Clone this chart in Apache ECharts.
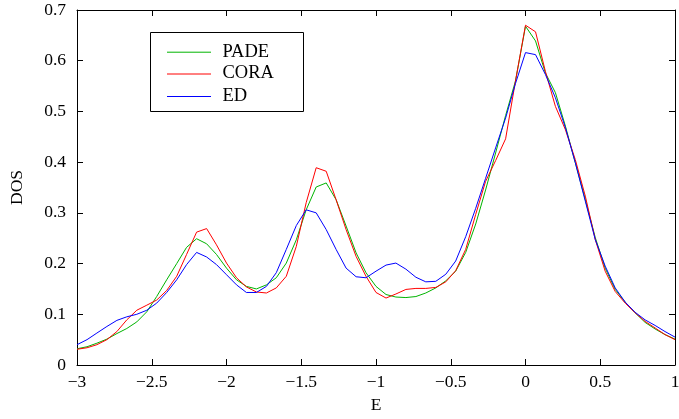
<!DOCTYPE html>
<html>
<head>
<meta charset="utf-8">
<script src="https://cdn.jsdelivr.net/npm/echarts@6/dist/echarts.min.js"></script>
<style>
html,body{margin:0;padding:0;background:#fff;}
#chart{width:679px;height:419px;}
</style>
</head>
<body>
<div id="chart"></div>
<script>
const E = [-3, -2.933, -2.867, -2.8, -2.733, -2.667, -2.6, -2.533, -2.467, -2.4, -2.333, -2.267, -2.2, -2.133, -2.067, -2, -1.933, -1.867, -1.8, -1.733, -1.667, -1.6, -1.533, -1.467, -1.4, -1.333, -1.267, -1.2, -1.133, -1.067, -1, -0.933, -0.867, -0.8, -0.733, -0.667, -0.6, -0.533, -0.467, -0.4, -0.333, -0.267, -0.2, -0.133, -0.067, 0, 0.067, 0.133, 0.2, 0.267, 0.333, 0.4, 0.467, 0.533, 0.6, 0.667, 0.733, 0.8, 0.867, 0.933, 1];

const PADE = [0.032, 0.036, 0.043, 0.051, 0.062, 0.072, 0.085, 0.105, 0.135, 0.168, 0.200, 0.232, 0.249, 0.239, 0.218, 0.191, 0.168, 0.155, 0.150, 0.158, 0.172, 0.201, 0.247, 0.306, 0.351, 0.359, 0.326, 0.274, 0.221, 0.182, 0.155, 0.139, 0.134, 0.133, 0.135, 0.142, 0.152, 0.166, 0.185, 0.222, 0.278, 0.345, 0.418, 0.492, 0.560, 0.668, 0.639, 0.576, 0.537, 0.471, 0.399, 0.326, 0.251, 0.191, 0.149, 0.124, 0.103, 0.084, 0.071, 0.060, 0.051];

const CORA = [0.031, 0.034, 0.040, 0.050, 0.066, 0.089, 0.108, 0.118, 0.128, 0.147, 0.175, 0.218, 0.262, 0.269, 0.237, 0.201, 0.172, 0.154, 0.144, 0.142, 0.152, 0.175, 0.234, 0.320, 0.389, 0.382, 0.326, 0.267, 0.214, 0.175, 0.143, 0.132, 0.140, 0.149, 0.151, 0.151, 0.153, 0.164, 0.186, 0.228, 0.297, 0.362, 0.403, 0.446, 0.560, 0.670, 0.657, 0.579, 0.510, 0.464, 0.405, 0.333, 0.247, 0.185, 0.145, 0.122, 0.103, 0.086, 0.073, 0.060, 0.050];

const ED = [0.040, 0.050, 0.063, 0.076, 0.088, 0.095, 0.100, 0.108, 0.122, 0.143, 0.168, 0.198, 0.222, 0.213, 0.198, 0.178, 0.158, 0.143, 0.143, 0.155, 0.182, 0.228, 0.275, 0.306, 0.300, 0.267, 0.228, 0.191, 0.174, 0.172, 0.185, 0.197, 0.201, 0.189, 0.173, 0.164, 0.165, 0.179, 0.205, 0.253, 0.309, 0.368, 0.428, 0.487, 0.555, 0.616, 0.612, 0.573, 0.527, 0.468, 0.399, 0.323, 0.247, 0.195, 0.152, 0.124, 0.104, 0.089, 0.078, 0.066, 0.055];

const seriesNames = ['PADE', 'CORA', 'ED'];
const seriesColors = ['#00b400', '#ff0000', '#0000ff'];
const seriesValues = [PADE, CORA, ED];

const FONT = 'Liberation Serif';
const FS = 17.5;
const LFS = 18.5;
const chart = echarts.init(document.getElementById('chart'), null, {renderer: 'canvas'});

const tickStyle = {show: true, inside: true, length: 6, lineStyle: {color: '#000', width: 1}};
const lineStyle = {onZero: false, lineStyle: {color: '#000', width: 1}};
const fmtX = v => String(v).replace('-', '\u2212');

// legend drawn as graphic elements (box, line samples, labels)
const legendRows = [51.7, 73.5, 96];
const legendGraphic = [{
  type: 'rect', z: 100,
  shape: {x: 150.5, y: 32.5, width: 153, height: 79},
  style: {fill: '#fff', stroke: '#000', lineWidth: 1}
}];
seriesNames.forEach((n, i) => {
  legendGraphic.push({
    type: 'line', z: 101,
    shape: {x1: 167, y1: legendRows[i] + 0.5, x2: 211, y2: legendRows[i] + 0.5},
    style: {stroke: seriesColors[i], lineWidth: 1}
  });
  legendGraphic.push({
    type: 'text', z: 101, x: 222.5, y: legendRows[i],
    style: {text: n, fill: '#000', font: LFS + 'px "' + FONT + '"', verticalAlign: 'middle', align: 'left'}
  });
});

chart.setOption({
  animation: false,
  backgroundColor: '#fff',
  grid: {left: 77, right: 4, top: 10, bottom: 54, outerBoundsMode: 'none', containLabel: false},
  xAxis: [{
    type: 'value', min: -3, max: 1, interval: 0.5,
    axisLine: lineStyle, axisTick: tickStyle, splitLine: {show: false},
    axisLabel: {color: '#000', fontFamily: FONT, fontSize: FS, margin: 8, formatter: fmtX},
    name: 'E', nameLocation: 'middle', nameGap: 31,
    nameTextStyle: {color: '#000', fontFamily: FONT, fontSize: FS}
  }, {
    type: 'value', min: -3, max: 1, interval: 0.5, position: 'top',
    axisLine: lineStyle, axisTick: tickStyle, splitLine: {show: false},
    axisLabel: {show: false}
  }],
  yAxis: [{
    type: 'value', min: 0, max: 0.7, interval: 0.1,
    axisLine: lineStyle, axisTick: tickStyle, splitLine: {show: false},
    axisLabel: {color: '#000', fontFamily: FONT, fontSize: FS, margin: 11,
      formatter: v => v === 0 ? '0' : v.toFixed(1)},
    name: 'DOS', nameLocation: 'middle', nameGap: 51, nameRotate: 90,
    nameTextStyle: {color: '#000', fontFamily: FONT, fontSize: FS}
  }, {
    type: 'value', min: 0, max: 0.7, interval: 0.1, position: 'right',
    axisLine: lineStyle, axisTick: tickStyle, splitLine: {show: false},
    axisLabel: {show: false}
  }],
  graphic: legendGraphic,
  series: seriesNames.map((n, i) => ({
    name: n, type: 'line', symbol: 'none', showSymbol: false,
    xAxisIndex: 0, yAxisIndex: 0,
    color: seriesColors[i],
    lineStyle: {color: seriesColors[i], width: 1},
    data: E.map((x, j) => [x, seriesValues[i][j]])
  }))
});
</script>
</body>
</html>
